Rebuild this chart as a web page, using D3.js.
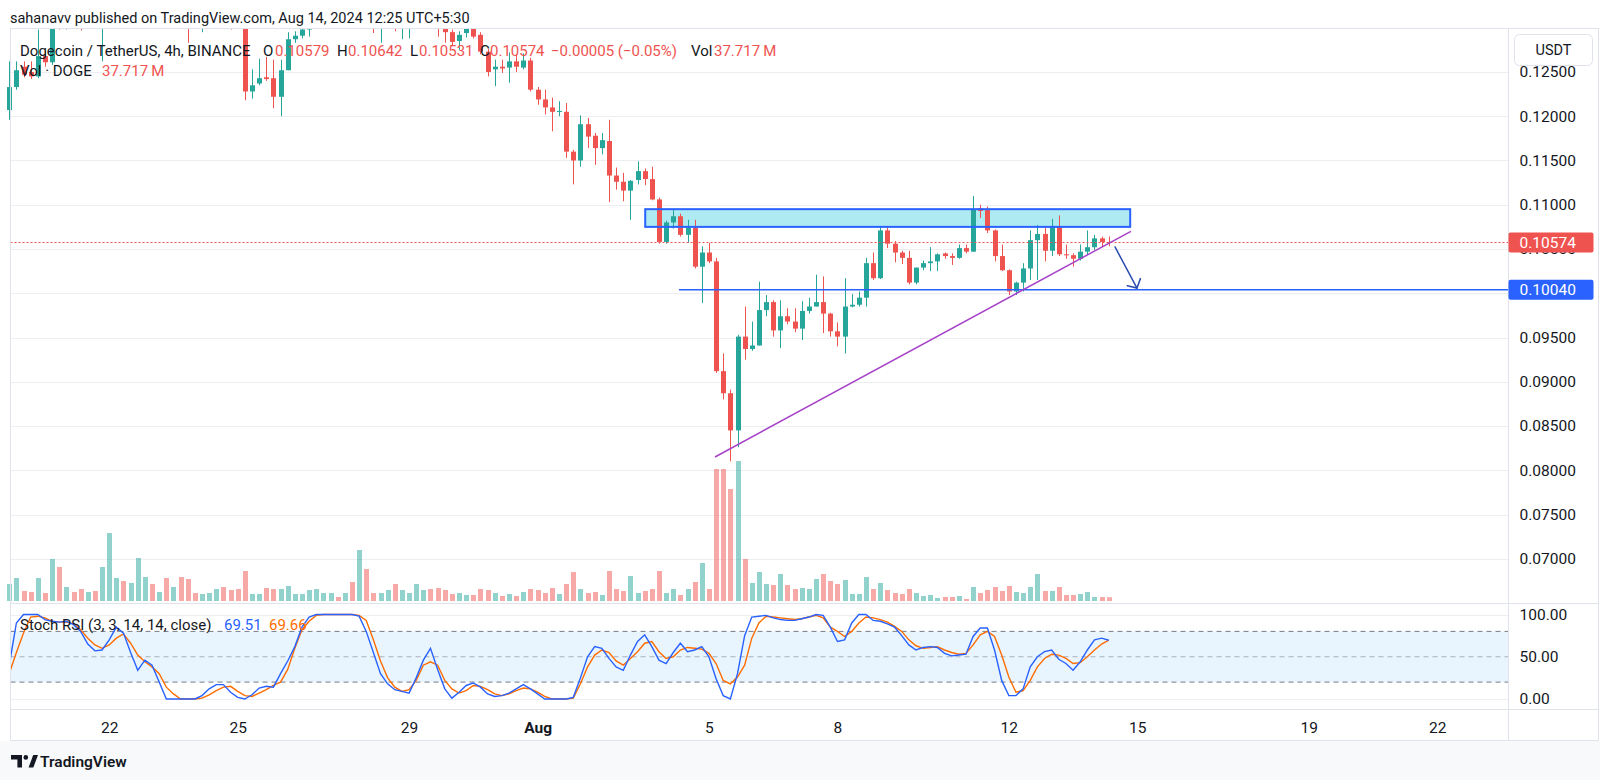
<!DOCTYPE html>
<html><head><meta charset="utf-8">
<script src="https://cdn.jsdelivr.net/npm/d3@7"></script>
<style>
html,body{margin:0;padding:0;background:#fff;overflow:hidden;}
svg{display:block;}
text{font-family:Roboto,"Noto Sans",sans-serif;}
</style></head><body>
<svg id="chart" width="1600" height="780"></svg>
<script>
// ---------------- DATA ----------------
const firstBar = Date.UTC(2024,6,19,17,30);   // first 4h bar (chart time)
const barMs = 4*3600*1000;
const open = [.1207,.1233,.1256,.1250,.1245,.1268,.1261,.1305,.1300,.1318,
.1310,.1302,.1320,.1308,.1326,.1338,.1346,.1334,.1342,.1358,
.1364,.1350,.1355,.1336,.1342,.1324,.1312,.1306,.1316,.1324,
.1330,.1320,.1312,.1308,.1228,.1237,.1244,.1243,.1222,.1252,
.1287,.1291,.1298,.1306,.1314,.1322,.1330,.1320,.1328,.1316,
.1342,.1318,.1300,.1308,.1314,.1302,.1315,.1320,.1326,.1330,
.1312,.1302,.1295,.1285,.1294,.1300,.1292,.1273,.1253,.1256,
.1255,.1262,.1255,.1263,.1230,.1219,.1210,.1205,.1205,.1160,
.1150,.1191,.1178,.1164,.1172,.1133,.1126,.1116,.1128,.1138,
.1129,.1106,.1058,.1080,.1087,.1066,.1074,.1030,.1046,.1036,
.0912,.0887,.0845,.0951,.0937,.0941,.0981,.0990,.0958,.0974,
.0968,.0960,.0980,.0985,.0990,.0977,.0957,.0951,.0985,.0987,
.0995,.1034,.1017,.1071,.1056,.1046,.1040,.1012,.1029,.1034,
.1036,.1045,.1042,.1040,.1051,.1047,.1096,.1094,.1071,.1042,
.1026,.1002,.1012,.1028,.1060,.1067,.1048,.1076,.1044,.1043,
.1039,.1047,.1052,.1062,.10579];
const high = [.1262,.1262,.1262,.1262,.1298,.1274,.1312,.1318,.1322,.1326,
.1315,.1325,.1324,.1330,.1342,.1352,.1350,.1348,.1365,.1372,
.1368,.1360,.1358,.1348,.1346,.1330,.1320,.1322,.1330,.1335,
.1334,.1324,.1316,.1312,.1253,.1265,.1267,.1264,.1264,.1295,
.1296,.1302,.1312,.1318,.1326,.1334,.1333,.1334,.1332,.1350,
.1348,.1322,.1312,.1318,.1318,.1320,.1325,.1332,.1336,.1334,
.1318,.1305,.1298,.1296,.1306,.1304,.1295,.1276,.1264,.1264,
.1272,.1270,.1271,.1266,.1233,.1230,.1221,.1217,.1215,.1162,
.1201,.1198,.1181,.1181,.1196,.1142,.1136,.1128,.1149,.1141,
.1143,.1108,.1082,.1094,.1090,.1083,.1083,.1053,.1057,.1040,
.0932,.0891,.0953,.0985,.0968,.1013,.0998,.0992,.0992,.0983,
.0983,.0991,.0995,.1021,.1019,.0978,.0967,.1017,.0999,.1002,
.1040,.1046,.1076,.1076,.1059,.1048,.1048,.1029,.1037,.1052,
.1045,.1046,.1045,.1055,.1055,.1110,.1100,.1098,.1072,.1055,
.1027,.1013,.1034,.1071,.1077,.1074,.1084,.1088,.1055,.1045,
.1055,.1071,.1066,.1064,.10642];
const low = [.1196,.1230,.1244,.1242,.1243,.1256,.1258,.1298,.1298,.1306,
.1297,.1300,.1304,.1262,.1320,.1330,.1328,.1330,.1338,.1350,
.1344,.1342,.1330,.1328,.1318,.1283,.1300,.1295,.1312,.1318,
.1314,.1298,.1302,.1218,.1220,.1235,.1240,.1209,.1200,.1252,
.1283,.1288,.1290,.1300,.1308,.1316,.1315,.1316,.1310,.1312,
.1310,.1294,.1283,.1300,.1296,.1287,.1288,.1314,.1320,.1306,
.1290,.1283,.1280,.1275,.1289,.1288,.1270,.1245,.1234,.1249,
.1238,.1250,.1253,.1228,.1213,.1202,.1183,.1200,.1153,.1123,
.1143,.1164,.1145,.1157,.1103,.1117,.1104,.1083,.1123,.1122,
.1105,.1056,.1056,.1073,.1064,.1057,.1028,.0989,.1034,.0910,
.0880,.0810,.0826,.0925,.0935,.0941,.0974,.0951,.0938,.0965,
.0956,.0947,.0977,.0985,.0955,.0951,.0940,.0932,.0984,.0985,
.0985,.1015,.1016,.1051,.1035,.1033,.1010,.1010,.1026,.1025,
.1025,.1039,.1032,.1039,.1045,.1047,.1085,.1068,.1036,.1025,
.0998,.0998,.1002,.1015,.1015,.1036,.1042,.1042,.1039,.1030,
.1037,.1043,.1049,.1052,.10531];
const close = [.1233,.1252,.1247,.1245,.1268,.1261,.1305,.1300,.1318,.1310,
.1302,.1320,.1308,.1326,.1338,.1346,.1334,.1342,.1358,.1364,
.1350,.1355,.1336,.1342,.1324,.1312,.1306,.1316,.1324,.1330,
.1320,.1312,.1308,.1228,.1235,.1243,.1242,.1222,.1252,.1287,
.1291,.1298,.1306,.1314,.1322,.1330,.1320,.1328,.1316,.1342,
.1318,.1300,.1308,.1314,.1302,.1315,.1320,.1326,.1330,.1312,
.1302,.1295,.1284,.1292,.1299,.1290,.1273,.1250,.1256,.1254,
.1262,.1256,.1263,.1230,.1219,.1210,.1205,.1206,.1160,.1150,
.1191,.1177,.1164,.1173,.1133,.1126,.1116,.1127,.1138,.1129,
.1106,.1058,.1080,.1087,.1066,.1074,.1030,.1046,.1036,.0912,
.0887,.0845,.0951,.0937,.0941,.0981,.0990,.0958,.0974,.0968,
.0960,.0980,.0985,.0990,.0977,.0957,.0951,.0985,.0987,.0995,
.1034,.1017,.1071,.1056,.1046,.1040,.1012,.1029,.1034,.1036,
.1044,.1042,.1040,.1051,.1047,.1095,.1093,.1071,.1042,.1026,
.1002,.1012,.1028,.1060,.1067,.1048,.1076,.1044,.1043,.1039,
.1047,.1052,.1062,.1058,.10574];
// volume, millions of DOGE
const volume = [170,230,100,90,230,80,420,340,140,90,
120,90,100,340,680,230,200,180,430,240,
170,90,230,140,240,220,80,70,80,120,
140,110,120,300,70,70,130,120,120,150,
70,70,110,120,80,80,40,80,190,510,
320,80,80,110,170,110,80,170,110,120,
130,110,70,80,60,60,120,110,80,50,
70,50,90,120,110,80,130,70,170,290,
120,80,90,60,300,120,100,250,80,100,
120,300,80,120,60,120,190,380,120,1320,
1320,1120,1400,420,180,290,170,160,270,160,
120,130,120,220,270,200,170,210,70,70,
240,120,180,110,80,70,120,80,50,60,
30,40,40,50,20,140,80,110,140,100,
150,90,80,140,270,100,100,140,60,60,
70,90,40,40,37.717];
// Stoch RSI (3,3,14,14) %K and %D
const stochK = [40,90,100,100,100,94,92,91,92,88,
80,65,57,58,70,85,78,55,34,46,
40,20,0,0,0,0,0,4,12,17,
17,8,2,0,5,13,15,14,30,45,
62,85,97,100,100,100,100,100,100,98,
80,55,30,18,11,9,7,25,46,60,
35,12,1,8,16,19,14,6,3,4,
7,12,17,12,6,0,0,0,0,2,
25,50,62,60,48,38,34,52,68,76,
62,46,42,55,66,56,58,62,50,24,
4,0,30,75,97,98,99,96,94,93,
93,95,97,100,99,85,68,70,90,100,
100,93,92,89,85,75,64,58,61,62,
61,54,51,52,53,74,84,84,58,22,
4,4,12,38,50,56,58,47,42,34,
44,58,70,72,69.51];
const stochD = [30,55,78,97,98,96,92,91,91,89,
82,72,64,60,64,72,77,66,52,44,
38,30,14,6,0,0,0,1,5,10,
14,15,9,4,3,7,11,16,20,35,
60,82,92,99,100,100,100,100,100,99,
93,70,45,25,14,9,11,22,40,44,
40,22,12,7,10,16,15,11,6,4,
6,10,13,12,8,3,0,0,0,1,
18,38,52,58,55,45,40,48,56,66,
68,56,48,50,58,61,60,59,54,42,
22,18,26,40,72,90,98,97,96,95,
94,95,97,99,96,85,80,74,80,90,
97,96,94,91,86,80,70,63,60,61,
62,58,55,53,54,64,76,80,74,52,
26,8,10,22,38,48,53,52,48,42,
43,50,58,65,69.66];
const priceTicks = [0.125,0.12,0.115,0.11,0.105,0.095,0.09,0.085,0.08,0.075,0.07];
const gridTicks = [0.125,0.12,0.115,0.11,0.105,0.10,0.095,0.09,0.085,0.08,0.075,0.07];
const rsiTicks = [100,50,0];
const timeTickDays = ["2024-07-22","2024-07-25","2024-07-29","2024-08-01","2024-08-05","2024-08-08","2024-08-12","2024-08-15","2024-08-19","2024-08-22"];
const timeTickLabels = ["22","25","29","Aug","5","8","12","15","19","22"];
const lastPrice = 0.10574;
const supportLevel = 0.10040;
const zone = {from:"2024-08-03T13:48Z", to:"2024-08-14T21:30Z", top:0.1095, bottom:0.1075};
const supportStart = "2024-08-04T08:42Z";
const trendLine = [{t:"2024-08-05T04:54Z", p:0.0815},{t:"2024-08-14T21:54Z", p:0.1070}];
const arrowLine = [{t:"2024-08-14T13:00Z", p:0.10523},{t:"2024-08-15T01:18Z", p:0.10059}];

// ---------------- LAYOUT ----------------
const PL=10.5, PR=1508.5, PT=28.5, PB=603.5, TT=709.5, BB=740.5, OR=1598.5;
const GREEN="#26a69a", RED="#ef5350", TXT="#131722";
const svg = d3.select("#chart");
const n = open.length;
const bars = d3.range(n).map(i=>({t:new Date(firstBar+i*barMs),o:open[i],h:high[i],l:low[i],c:close[i],v:volume[i],k:stochK[i],d:stochD[i]}));

const x = d3.scaleUtc().domain([new Date(Date.UTC(2024,6,22,1,30)), new Date(Date.UTC(2024,7,22,1,30))]).range([109.2,1437.2]);
const y = d3.scaleLinear().domain([0.125,0.07]).range([72,558.75]);
const yv = d3.scaleLinear().domain([0,1000]).range([601,501]);
const yr = d3.scaleLinear().domain([0,100]).range([699,614.5]);

const defs = svg.append("defs");
defs.append("clipPath").attr("id","cp").append("rect").attr("x",7).attr("y",PT).attr("width",PR-7).attr("height",PB-PT);
defs.append("clipPath").attr("id","cr").append("rect").attr("x",PL).attr("y",PB).attr("width",PR-PL).attr("height",TT-PB);

// backgrounds
svg.append("rect").attr("x",0).attr("y",0).attr("width",1600).attr("height",780).attr("fill","#fff");
svg.append("rect").attr("x",0).attr("y",BB+0.5).attr("width",1600).attr("height",780-BB).attr("fill","#f8f9fb");

// header
svg.append("text").attr("x",10).attr("y",22.5).attr("font-size",14.5).attr("fill",TXT)
  .text("sahanavv published on TradingView.com, Aug 14, 2024 12:25 UTC+5:30");

// grid
const grid = svg.append("g").attr("stroke","#eceef2").attr("stroke-width",1);
gridTicks.forEach(p=>grid.append("line").attr("x1",PL).attr("x2",PR).attr("y1",Math.round(y(p))+0.5).attr("y2",Math.round(y(p))+0.5));
[100,0].forEach(v=>grid.append("line").attr("x1",PL).attr("x2",PR).attr("y1",Math.round(yr(v))+0.5).attr("y2",Math.round(yr(v))+0.5));

// price pane content
const pg = svg.append("g").attr("clip-path","url(#cp)");
const zx0 = x(new Date(zone.from)), zx1 = x(new Date(zone.to));
pg.append("rect").attr("x",zx0).attr("y",y(zone.top)).attr("width",zx1-zx0).attr("height",y(zone.bottom)-y(zone.top)).attr("fill","#aeeaf2");
// volume
pg.selectAll("rect.v").data(bars).join("rect").attr("class","v")
  .attr("x",d=>Math.round(x(d.t))-2).attr("width",5)
  .attr("y",d=>yv(d.v)).attr("height",d=>yv(0)-yv(d.v))
  .attr("fill",d=>d.c>=d.o?"rgba(38,166,154,0.5)":"rgba(239,83,80,0.5)");
// candles
const cg = pg.append("g");
cg.selectAll("line.w").data(bars).join("line").attr("class","w")
  .attr("x1",d=>Math.round(x(d.t))+0.5).attr("x2",d=>Math.round(x(d.t))+0.5)
  .attr("y1",d=>y(d.h)).attr("y2",d=>y(d.l))
  .attr("stroke",d=>d.c>=d.o?GREEN:RED).attr("stroke-width",1);
cg.selectAll("rect.b").data(bars).join("rect").attr("class","b")
  .attr("x",d=>Math.round(x(d.t))-2).attr("width",5)
  .attr("y",d=>y(Math.max(d.o,d.c))).attr("height",d=>Math.max(1,Math.abs(y(d.o)-y(d.c))))
  .attr("fill",d=>d.c>=d.o?GREEN:RED);
// zone border
pg.append("rect").attr("x",zx0).attr("y",y(zone.top)).attr("width",zx1-zx0).attr("height",y(zone.bottom)-y(zone.top))
  .attr("fill","none").attr("stroke","#2962ff").attr("stroke-width",2);
// last price dotted line
const lpY = Math.round(y(lastPrice))+0.5;
pg.append("line").attr("x1",PL).attr("x2",PR).attr("y1",lpY).attr("y2",lpY)
  .attr("stroke",RED).attr("stroke-width",1).attr("stroke-dasharray","2,2");
// support line
pg.append("line").attr("x1",x(new Date(supportStart))).attr("x2",PR).attr("y1",y(supportLevel)).attr("y2",y(supportLevel))
  .attr("stroke","#2962ff").attr("stroke-width",1.5);
// trend line
pg.append("line").attr("x1",x(new Date(trendLine[0].t))).attr("y1",y(trendLine[0].p))
  .attr("x2",x(new Date(trendLine[1].t))).attr("y2",y(trendLine[1].p))
  .attr("stroke","#a642c8").attr("stroke-width",1.5);
// arrow
{
  const ax1=x(new Date(arrowLine[0].t)), ay1=y(arrowLine[0].p), ax2=x(new Date(arrowLine[1].t)), ay2=y(arrowLine[1].p);
  const ang=Math.atan2(ay1-ay2, ax1-ax2), L=10, a=0.84;
  const ag = pg.append("g").attr("stroke","#2a4bb0").attr("stroke-width",1.5).attr("fill","none").attr("stroke-linecap","round");
  ag.append("line").attr("x1",ax1).attr("y1",ay1).attr("x2",ax2).attr("y2",ay2);
  ag.append("path").attr("d",`M${ax2+L*Math.cos(ang-a)},${ay2+L*Math.sin(ang-a)}L${ax2},${ay2}L${ax2+L*Math.cos(ang+a)},${ay2+L*Math.sin(ang+a)}`);
}

// legend
function seg(xp,yp,str,col,size,w){svg.append("text").attr("x",xp).attr("y",yp).attr("font-size",size||15).attr("fill",col||TXT).attr("font-weight",w||400).text(str);}
const LY=55.5;
seg(20,LY,"Dogecoin / TetherUS, 4h, BINANCE");
seg(263,LY,"O"); seg(275,LY,open[n-1].toFixed(5),RED);
seg(337,LY,"H"); seg(348,LY,high[n-1].toFixed(5),RED);
seg(410,LY,"L"); seg(419,LY,low[n-1].toFixed(5),RED);
seg(480,LY,"C"); seg(490,LY,close[n-1].toFixed(5),RED);
seg(551,LY,"\u22120.00005 (\u22120.05%)",RED);
seg(691,LY,"Vol"); seg(714,LY,"37.717\u2009M",RED);
seg(20,75.5,"Vol \u00b7 DOGE"); seg(102,75.5,"37.717\u2009M",RED);

// RSI pane
svg.append("rect").attr("x",PL).attr("width",PR-PL).attr("y",yr(80)).attr("height",yr(20)-yr(80)).attr("fill","rgba(33,150,243,0.1)");
[80,20].forEach(v=>svg.append("line").attr("x1",PL).attr("x2",PR).attr("y1",yr(v)).attr("y2",yr(v)).attr("stroke","#787b86").attr("stroke-dasharray","5,4"));
svg.append("line").attr("x1",PL).attr("x2",PR).attr("y1",yr(50)).attr("y2",yr(50)).attr("stroke","rgba(120,123,134,0.55)").attr("stroke-dasharray","5,4");
const rg = svg.append("g").attr("clip-path","url(#cr)");
rg.append("path").datum(bars).attr("fill","none").attr("stroke","#ff6d00").attr("stroke-width",1.4)
  .attr("d",d3.line().x(d=>x(d.t)).y(d=>yr(d.d)));
rg.append("path").datum(bars).attr("fill","none").attr("stroke","#2962ff").attr("stroke-width",1.4)
  .attr("d",d3.line().x(d=>x(d.t)).y(d=>yr(d.k)));
seg(20,630,"Stoch RSI (3, 3, 14, 14, close)",TXT,15);
seg(224,630,stochK[n-1].toFixed(2),"#2962ff",15);
seg(269,630,stochD[n-1].toFixed(2),"#ff6d00",15);

// frame lines
const fr = svg.append("g").attr("stroke","#e0e3eb").attr("fill","none");
fr.append("rect").attr("x",PL).attr("y",PT).attr("width",OR-PL).attr("height",BB-PT);
fr.append("line").attr("x1",PR).attr("x2",PR).attr("y1",PT).attr("y2",BB);
fr.append("line").attr("x1",PL).attr("x2",OR).attr("y1",PB).attr("y2",PB);
fr.append("line").attr("x1",PL).attr("x2",OR).attr("y1",TT).attr("y2",TT);

// price axis
const AF = 15.5;
const pax = svg.append("g").attr("transform",`translate(${PR},0)`)
  .call(d3.axisRight(y).tickValues(priceTicks).tickFormat(d=>d.toFixed(5)).tickSize(0).tickPadding(11));
pax.select(".domain").remove();
pax.selectAll("text").attr("font-size",AF).attr("fill",TXT).attr("font-family","Roboto, sans-serif");
const rax = svg.append("g").attr("transform",`translate(${PR},0)`)
  .call(d3.axisRight(yr).tickValues(rsiTicks).tickFormat(d=>d.toFixed(2)).tickSize(0).tickPadding(11));
rax.select(".domain").remove();
rax.selectAll("text").attr("font-size",AF).attr("fill",TXT).attr("font-family","Roboto, sans-serif");

// price labels
function plabel(p,col){
  const g=svg.append("g");
  g.append("rect").attr("x",PR).attr("y",y(p)-10).attr("width",85).attr("height",20).attr("rx",2).attr("fill",col);
  g.append("text").attr("x",PR+11).attr("y",y(p)).attr("dy","0.35em").attr("font-size",AF).attr("fill","#fff").text(p.toFixed(5));
}
plabel(lastPrice,RED);
plabel(supportLevel,"#2962ff");
// currency box
svg.append("rect").attr("x",1514.5).attr("y",34.5).attr("width",78).attr("height",31).attr("rx",5).attr("fill","#fff").attr("stroke","#e0e3eb");
svg.append("text").attr("x",1553.5).attr("y",50).attr("dy","0.35em").attr("text-anchor","middle").attr("font-size",14.5).attr("fill",TXT).text("USDT");

// time axis
const tax = svg.append("g").attr("transform",`translate(0,${TT})`)
  .call(d3.axisBottom(x).tickValues(timeTickDays.map(s=>new Date(s+"T01:30Z"))).tickFormat((d,i)=>timeTickLabels[i]).tickSize(0).tickPadding(12));
tax.select(".domain").remove();
tax.selectAll("text").attr("font-size",AF).attr("fill",TXT).attr("font-family","Roboto, sans-serif")
  .attr("font-weight",(d,i)=>timeTickLabels[i]==="Aug"?"700":"400");

// footer logo
const lg = svg.append("g").attr("fill","#131722");
lg.append("path").attr("d","M11,755h11v12.5h-4.6v-8h-6.4z");
lg.append("circle").attr("cx",25.8).attr("cy",757.4).attr("r",2.3);
lg.append("path").attr("d","M28.6,767.5l4.6,-12.5h4.8l-4.7,12.5z");
svg.append("text").attr("x",40).attr("y",766.5).attr("font-size",15.5).attr("font-weight",600).attr("fill","#131722").text("TradingView");
</script>
</body></html>
